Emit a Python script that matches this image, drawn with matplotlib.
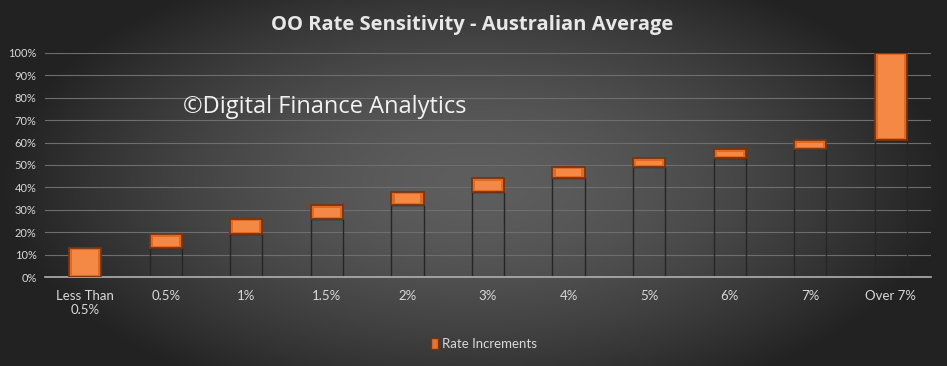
import numpy as np
import matplotlib
matplotlib.use("Agg")
import matplotlib.pyplot as plt
from matplotlib.patches import Patch

categories = ["Less Than\n0.5%", "0.5%", "1%", "1.5%", "2%", "3%", "4%", "5%", "6%", "7%", "Over 7%"]
base = [0, 13, 19, 26, 32, 38, 44, 49, 53, 57, 61]
increments = [13, 6, 7, 6, 6, 6, 5, 4, 4, 4, 39]
yticks = [0, 10, 20, 30, 40, 50, 60, 70, 80, 90, 100]
ytick_labels = [f"{v}%" for v in yticks]

W, H = 947, 366
fig = plt.figure(figsize=(W / 100, H / 100), dpi=100)

# background radial gradient
bg = fig.add_axes([0, 0, 1, 1])
xx, yy = np.meshgrid(np.linspace(-1, 1, 400), np.linspace(-1, 1, 160))
r = np.sqrt((xx / 1.0) ** 2 + (yy / 1.3) ** 2)
r = np.clip(r, 0, 1)
inner = np.array([0x5e, 0x5e, 0x5e]) / 255
outer = np.array([0x22, 0x22, 0x22]) / 255
img = inner[None, None, :] * (1 - r[..., None] ** 1.6) + outer[None, None, :] * (r[..., None] ** 1.6)
bg.imshow(img, aspect="auto", extent=[0, 1, 0, 1])
bg.set_axis_off()

ax = fig.add_axes([45 / W, 1 - 277 / H, (931 - 45) / W, (277 - 53) / H])
ax.patch.set_alpha(0)
x = np.arange(len(categories))
ax.bar(x, base, width=0.4, color="none", edgecolor="#262626", linewidth=1.0, zorder=2)
ax.bar(x, increments, bottom=base, width=0.4, color="#E06A22", edgecolor="#7A3410",
       linewidth=1.3, zorder=3)
# inner highlight to mimic bevel
ax.bar(x, [max(v - 2.0, 0) for v in increments], bottom=[b + 1.0 for b in base], width=0.32,
       color="#F48845", edgecolor="none", zorder=4)

ax.set_ylim(0, 100)
ax.set_xlim(-0.5, len(categories) - 0.5)
ax.set_yticks(yticks)
ax.set_yticklabels(ytick_labels)
ax.set_xticks(x)
ax.set_xticklabels(categories)
ax.grid(axis="y", color="#6e6e6e", linewidth=0.8, zorder=0)
ax.set_axisbelow(True)
for s in ["top", "right", "left"]:
    ax.spines[s].set_visible(False)
ax.spines["bottom"].set_color("#b0b0b0")
ax.spines["bottom"].set_linewidth(1.2)
ax.tick_params(axis="both", length=0, colors="#d9d9d9", labelsize=9.5)
ax.tick_params(axis="y", pad=6, labelsize=8)
ax.tick_params(axis="x", pad=9)
for t in ax.get_xticklabels() + ax.get_yticklabels():
    t.set_fontfamily("Lato")

fig.text(472 / W, 1 - 25 / H, "OO Rate Sensitivity - Australian Average", ha="center", va="center",
         color="#e8e8e8", fontsize=14.5, fontweight="bold", family="Open Sans")
fig.text(183 / W, 1 - 107 / H, "©Digital Finance Analytics", ha="left", va="center",
         color="#f2f2f2", fontsize=17, family="Open Sans")

leg = fig.legend(handles=[Patch(facecolor="#E8732A", edgecolor="#7A3410", label="Rate Increments")],
                 loc="center", bbox_to_anchor=(484 / W, 1 - 344 / H), frameon=False,
                 handlelength=0.5, handleheight=0.9, handletextpad=0.3,
                 prop={"family": "Lato", "size": 9.5})
for t in leg.get_texts():
    t.set_color("#d9d9d9")

fig.savefig("out.png", dpi=100)
